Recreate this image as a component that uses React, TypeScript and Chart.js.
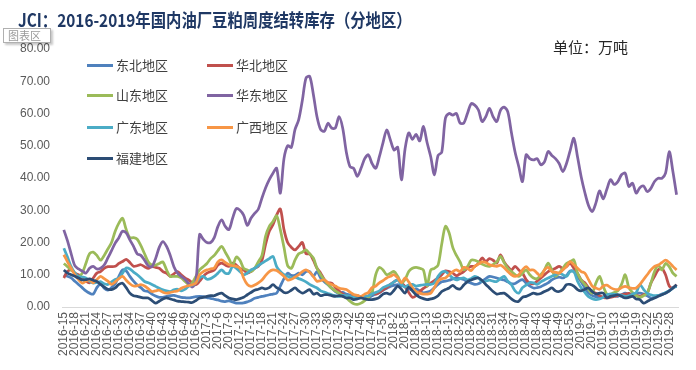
import React, { useEffect, useLayoutEffect, useRef } from "react";
import { Chart, registerables } from "chart.js";

Chart.register(...registerables);

const TITLE = "JCI：2016-2019年国内油厂豆粕周度结转库存（分地区）";
const UNIT = "单位：万吨";

const weeks2016 = [15, 16, 17, 18, 19, 20, 21, 22, 23, 24, 25, 26, 27, 28, 29, 31, 32, 33, 34, 35, 36, 37, 38, 39, 40, 41, 42, 43, 44, 45, 46, 47, 48, 49, 50, 51, 52];
const weeks2017 = [1, 2, 3, 4, 5, 6, 7, 8, 9, 10, 11, 12, 13, 14, 15, 16, 17, 18, 19, 20, 21, 22, 23, 24, 25, 26, 27, 28, 29, 30, 31, 32, 33, 34, 35, 36, 37, 38, 39, 40, 41, 42, 43, 44, 45, 46, 47, 48, 49, 50, 51, 52];
const weeks2018 = [1, 2, 3, 4, 5, 6, 9, 10, 11, 12, 13, 14, 15, 16, 17, 18, 19, 20, 21, 22, 23, 24, 25, 26, 27, 28, 29, 30, 31, 32, 33, 34, 35, 36, 37, 38, 39, 40, 41, 42, 43, 44, 45, 46, 47, 48, 49, 50, 51, 52];
const weeks2019 = [1, 2, 3, 4, 5, 7, 8, 9, 10, 11, 12, 13, 14, 15, 16, 17, 18, 19, 20, 21, 22, 23, 24, 25, 26, 27, 28, 29, 30];

const categories: string[] = [
  ...weeks2016.map((w) => `2016-${w}`),
  ...weeks2017.map((w) => `2017-${w}`),
  ...weeks2018.map((w) => `2018-${w}`),
  ...weeks2019.map((w) => `2019-${w}`),
];

const yTicks = [0, 10, 20, 30, 40, 50, 60, 70, 80];

const dongbei = [
  10.0, 9.5, 9.0, 8.0, 7.0, 6.0, 5.0, 4.3, 4.0, 6.0, 7.2, 5.8, 5.2, 6.0, 7.2, 9.5, 11.5, 11.2, 9.5, 8.0, 6.8, 6.0, 5.0, 4.8, 4.0, 3.4, 3.0, 3.0, 3.3, 3.5, 3.6, 3.3, 3.0, 2.9, 2.8, 3.0, 3.2, 3.3, 3.2, 2.9, 2.7, 2.4,
  2.2, 1.8, 1.7, 1.9, 1.6, 1.2, 1.2, 1.3, 1.6, 2.0, 2.7, 3.0, 3.3, 3.5, 3.8, 4.0, 4.3, 6.5, 8.8, 10.5, 9.8, 9.8, 10.5, 10.0, 11.0, 11.0, 9.5, 11.0, 9.0, 7.8, 6.9, 5.8, 4.8, 4.3, 4.5, 4.0, 3.8, 3.5, 3.2, 2.9, 2.8, 2.8,
  3.5, 4.0, 4.5, 5.2, 5.8, 6.4, 6.7, 6.9, 6.6, 6.4, 5.6, 5.4, 5.6, 5.0, 4.4, 4.6, 5.0, 6.0, 7.0, 7.8, 8.0, 8.3, 8.7, 9.0, 8.8, 8.5, 7.8, 7.4, 7.0, 7.2, 8.0, 8.8, 9.5, 9.3, 9.0, 8.6, 8.4, 7.8, 7.2, 7.3, 8.0,
  8.5, 7.4, 6.5, 5.9, 6.0, 6.3, 6.9, 7.5, 8.4, 9.0, 9.3, 9.0, 9.8, 11.2, 11.0, 9.5, 7.8, 6.0, 4.3, 3.6, 3.2, 3.0, 3.1, 3.3, 3.6, 3.5, 3.3, 3.8, 4.3, 4.0, 3.8, 4.2, 4.3, 4.0, 3.5, 2.8, 3.0, 3.5, 4.0, 4.3, 5.0, 5.9, 6.4,
];

const huabei = [
  9.0, 11.0, 11.5, 10.5, 10.0, 9.0, 8.0, 7.5, 9.0, 10.5, 11.0, 12.0, 12.5, 12.5, 12.6, 13.5, 14.1, 14.8, 13.8, 12.6, 12.8, 13.1, 12.5, 12.0, 12.6, 12.3, 12.0, 11.0, 10.5, 9.5, 10.3, 11.0, 10.0, 9.0, 8.4, 7.5, 6.9, 8.0, 9.5, 10.5, 11.0, 11.5,
  13.0, 13.6, 13.0, 12.6, 13.6, 13.0, 12.0, 11.5, 10.5, 11.0, 12.0, 12.6, 14.5, 19.5, 23.5, 25.5, 28.5, 30.4, 24.0, 20.0, 18.5, 17.7, 18.8, 20.0, 16.5, 16.5, 14.5, 12.0, 10.5, 8.5, 7.5, 7.4, 6.0, 5.0, 4.0, 3.5, 3.3, 3.5, 3.5, 3.0, 3.0, 3.3,
  4.5, 4.0, 4.5, 5.3, 6.0, 7.0, 7.8, 8.4, 7.5, 6.3, 4.5, 3.0, 3.5, 4.8, 5.8, 6.5, 7.4, 8.2, 9.0, 10.0, 11.2, 11.0, 10.5, 9.7, 10.3, 11.0, 12.0, 12.6, 12.6, 13.5, 15.2, 14.1, 15.0, 14.5, 13.6, 16.2, 14.0, 12.5, 11.5, 12.6, 11.5,
  10.5, 8.5, 7.4, 7.2, 8.0, 9.0, 10.0, 11.0, 11.5, 12.0, 12.6, 12.0, 12.5, 13.6, 12.0, 10.5, 8.4, 7.5, 6.0, 4.8, 4.3, 3.5, 3.0, 2.8, 3.0, 3.3, 3.5, 3.8, 4.0, 4.2, 3.8, 3.6, 3.3, 3.8, 4.3, 7.4, 9.5, 11.5, 12.0, 10.0, 6.5, 5.9, 6.9,
];

const shandong = [
  13.5, 12.5, 11.5, 10.5, 9.5, 10.5, 13.5, 16.5, 17.0, 16.0, 14.5, 16.0, 18.0, 20.0, 23.5, 26.0, 27.5, 24.0, 21.5, 21.5, 21.0, 19.0, 16.5, 14.0, 13.0, 13.0, 13.5, 14.0, 11.5, 9.5, 9.5, 9.5, 9.0, 8.0, 7.0, 7.5, 9.5, 11.5, 12.5, 13.5, 15.0, 16.0,
  17.5, 18.8, 17.0, 15.0, 12.8, 15.5, 14.5, 12.0, 11.5, 11.0, 12.0, 14.0, 16.0, 22.0, 25.0, 26.5, 28.3, 24.0, 18.5, 12.8, 12.0, 14.5, 16.5, 17.0, 17.7, 16.5, 15.2, 12.0, 10.0, 8.4, 7.0, 5.8, 5.0, 4.3, 3.5, 2.8, 1.8, 1.0, 0.8, 1.2, 2.0, 3.0,
  4.5, 10.0, 12.3, 11.5, 10.0, 10.5, 11.0, 9.5, 7.5, 8.5, 11.0, 12.0, 12.3, 12.0, 11.5, 6.5, 11.5, 12.0, 13.0, 19.5, 25.0, 23.0, 18.5, 16.0, 14.0, 11.5, 12.5, 14.5, 14.5, 14.0, 13.3, 12.8, 12.6, 13.2, 14.0, 15.7, 13.8, 12.0, 11.0, 10.0, 9.5,
  10.5, 11.5, 10.0, 9.0, 8.8, 10.0, 11.5, 13.6, 11.5, 9.5, 10.5, 12.0, 13.5, 14.1, 14.6, 10.5, 8.4, 7.0, 5.5, 4.3, 7.4, 9.5, 6.5, 4.0, 4.0, 4.5, 5.0, 7.0, 10.0, 6.0, 4.5, 3.5, 3.0, 3.5, 4.3, 7.4, 11.0, 13.0, 11.5, 13.5, 12.5, 10.5, 9.5,
];

const huadong = [
  23.9, 20.5, 16.5, 12.8, 11.8, 11.2, 10.5, 12.0, 12.6, 11.8, 12.0, 13.0, 15.2, 17.5, 19.8, 21.5, 23.5, 23.0, 20.8, 18.8, 16.5, 16.0, 14.5, 12.8, 12.5, 15.0, 18.5, 20.3, 18.8, 16.0, 12.5, 10.5, 9.5, 8.6, 7.3, 6.2, 8.0, 22.5, 21.0, 20.0, 20.0, 21.5,
  25.0, 27.0, 25.0, 24.0, 27.5, 30.5, 30.0, 28.5, 25.3, 27.5, 29.0, 30.3, 33.8, 37.0, 39.5, 41.5, 43.0, 35.3, 46.0, 50.0, 49.5, 55.0, 58.0, 64.0, 71.0, 71.5, 66.0, 59.0, 55.0, 54.5, 57.0, 55.5, 55.5, 59.0, 55.5, 48.0, 43.5, 43.0, 40.5, 43.0, 46.0, 47.2,
  44.5, 43.0, 46.6, 51.0, 54.9, 51.8, 48.7, 49.5, 39.4, 49.0, 54.0, 52.0, 53.5, 51.5, 56.0, 51.0, 46.6, 41.0, 47.0, 48.0, 58.5, 60.0, 59.5, 60.0, 57.0, 57.0, 60.0, 63.0, 62.6, 61.1, 57.5, 59.0, 61.6, 59.0, 57.5, 61.0, 62.0, 60.5, 54.0, 48.0, 43.5,
  38.9, 47.2, 46.0, 45.6, 46.0, 44.1, 45.0, 48.2, 47.0, 46.0, 44.5, 42.0, 44.5, 48.5, 52.3, 46.6, 40.4, 35.5, 31.5, 29.6, 32.2, 36.0, 33.5, 36.5, 39.5, 38.0, 38.9, 41.0, 41.5, 37.4, 38.4, 35.3, 37.0, 37.5, 35.8, 36.8, 38.9, 39.9, 39.9, 41.5, 48.2, 42.0, 34.8,
];

const guangdong = [
  18.2, 15.5, 12.5, 10.5, 9.5, 9.3, 9.0, 8.0, 7.4, 7.6, 7.9, 7.2, 7.0, 7.8, 8.5, 9.0, 10.5, 12.1, 11.8, 10.8, 10.0, 9.0, 7.9, 7.5, 7.0, 6.4, 5.8, 5.3, 5.0, 4.8, 5.3, 5.5, 5.0, 5.5, 6.4, 6.8, 7.5, 9.0, 9.5, 8.6, 8.8, 9.5,
  10.5, 11.5, 10.5, 10.5, 12.6, 12.0, 11.0, 10.0, 10.5, 11.5, 12.0, 12.8, 13.6, 14.3, 15.0, 15.7, 12.5, 11.0, 10.0, 9.5, 9.0, 9.3, 8.8, 8.4, 7.8, 7.0, 6.4, 5.9, 5.0, 4.6, 4.2, 3.8, 3.5, 3.3, 3.6, 3.5, 3.3, 3.0, 2.8, 3.0, 3.3, 3.5,
  4.0, 4.5, 5.0, 6.0, 6.5, 7.0, 7.8, 8.4, 7.0, 6.2, 6.9, 7.0, 6.5, 6.7, 6.9, 7.0, 7.0, 7.5, 9.5, 10.8, 11.0, 10.0, 9.0, 8.4, 8.8, 9.0, 8.4, 8.8, 9.5, 9.0, 7.9, 8.0, 8.3, 8.0, 7.9, 8.8, 9.5, 8.0, 6.9, 5.0, 4.3,
  6.0, 6.8, 7.6, 7.5, 7.0, 7.8, 8.4, 9.0, 9.5, 10.0, 10.5, 10.0, 9.5, 11.0, 11.0, 8.0, 6.0, 4.5, 3.2, 2.6, 2.3, 2.5, 3.0, 3.8, 4.0, 4.0, 3.8, 3.6, 3.3, 3.5, 4.0, 4.5, 6.9, 5.5, 4.2, 3.8, 3.5, 3.6, 3.8, 4.5, 5.0, 5.9, 6.4,
];

const guangxi = [
  16.2, 14.0, 12.0, 10.0, 8.5, 7.4, 8.0, 8.4, 7.5, 8.5, 9.5, 8.8, 8.0, 7.0, 7.8, 8.8, 9.5, 8.3, 7.2, 6.5, 6.6, 6.9, 6.5, 5.7, 4.8, 5.0, 5.2, 4.6, 4.3, 4.5, 4.8, 5.0, 5.8, 6.3, 6.6, 6.9, 7.5, 10.0, 11.0, 11.5, 11.8, 12.1,
  14.0, 14.6, 13.8, 13.1, 12.8, 12.6, 12.0, 9.0, 7.0, 6.4, 6.8, 7.5, 8.4, 9.8, 11.0, 11.5, 11.3, 10.5, 9.5, 8.4, 8.6, 9.3, 10.0, 11.0, 11.5, 10.8, 9.5, 8.0, 8.2, 8.4, 7.5, 7.0, 6.5, 5.9, 5.6, 5.4, 4.6, 3.9, 3.6, 3.3, 4.0, 4.5,
  6.0, 6.5, 7.5, 8.2, 9.0, 9.5, 10.0, 9.0, 7.5, 9.0, 7.8, 6.0, 4.8, 4.3, 4.0, 4.0, 4.3, 6.0, 8.0, 8.8, 9.0, 10.0, 11.0, 11.5, 11.0, 12.3, 12.0, 11.3, 12.6, 13.3, 14.0, 13.8, 13.1, 12.8, 12.6, 13.0, 12.2, 11.0, 10.0, 9.5, 10.0,
  11.5, 12.5, 11.5, 11.5, 10.5, 9.5, 11.5, 12.3, 11.0, 10.8, 10.5, 11.5, 12.6, 14.1, 13.1, 12.0, 11.0, 10.5, 8.5, 6.5, 5.9, 5.5, 6.5, 6.8, 6.0, 5.5, 5.4, 6.0, 6.4, 6.0, 5.8, 5.9, 7.0, 8.5, 10.0, 11.5, 12.6, 13.0, 13.8, 14.5, 13.8, 12.6, 11.5,
];

const fujian = [
  11.5, 10.5, 10.0, 9.5, 9.0, 8.4, 8.5, 8.7, 8.3, 7.9, 7.0, 6.2, 5.5, 5.4, 5.9, 7.0, 7.4, 6.0, 4.3, 3.5, 3.3, 3.0, 2.8, 2.8, 2.0, 1.2, 1.8, 2.5, 2.8, 2.5, 2.2, 1.8, 1.7, 1.6, 1.5, 1.4, 2.0, 2.8, 3.0, 3.3, 3.5, 3.5,
  4.0, 4.3, 3.5, 2.8, 2.5, 2.3, 2.6, 3.0, 3.8, 4.5, 5.2, 5.5, 5.9, 5.6, 6.0, 6.9, 6.0, 5.4, 4.5, 4.5, 5.2, 5.9, 5.0, 4.3, 4.8, 5.4, 4.0, 4.3, 3.5, 3.8, 3.8, 3.5, 3.3, 3.5, 3.3, 2.8, 2.8, 2.3, 2.5, 2.8, 2.5, 2.3,
  2.3, 2.5, 3.0, 4.0, 4.3, 4.0, 5.2, 6.5, 5.5, 4.3, 6.2, 5.0, 3.8, 3.0, 2.6, 2.3, 2.5, 2.8, 3.5, 4.8, 5.4, 5.9, 6.7, 5.8, 5.6, 6.8, 7.9, 8.4, 8.8, 9.0, 8.2, 7.0, 5.9, 4.8, 4.0, 4.2, 4.3, 3.5, 2.5, 1.8, 1.8,
  3.0, 3.3, 3.8, 4.3, 4.0, 4.2, 4.8, 5.3, 5.9, 5.0, 4.8, 5.4, 6.9, 7.0, 6.5, 5.4, 5.0, 5.5, 5.9, 4.8, 4.0, 4.3, 4.3, 2.8, 3.3, 3.5, 3.8, 3.3, 2.8, 3.0, 3.3, 2.5, 2.3, 1.2, 1.7, 2.3, 2.8, 3.3, 3.8, 4.3, 5.0, 5.9, 6.9,
];

const seriesNames = ["东北地区", "华北地区", "山东地区", "华东地区", "广东地区", "广西地区", "福建地区"];
const seriesColors = ["#4F81BD", "#C0504D", "#9BBB59", "#8064A2", "#4BACC6", "#F79646", "#2C4D75"];
const seriesData = [dongbei, huabei, shandong, huadong, guangdong, guangxi, fujian];

const FONT = "'Liberation Sans', Arial, sans-serif";
const CJK = "'Noto Sans CJK SC', 'Noto Sans', sans-serif";
const AXIS_COLOR = "#595959";

const topTickLabelPlugin = {
  id: "topTickLabel",
  afterDraw(chart: any) {
    const y = chart.scales.y;
    if (!y) return;
    const top = yTicks[yTicks.length - 1];
    const ctx = chart.ctx;
    ctx.save();
    ctx.font = `12px ${FONT}`;
    ctx.fillStyle = AXIS_COLOR;
    ctx.textAlign = "right";
    ctx.textBaseline = "middle";
    ctx.fillText(top.toFixed(2), y.right - 12, y.getPixelForValue(top));
    ctx.restore();
  },
};

export default function App() {
  const canvasRef = useRef<HTMLCanvasElement | null>(null);
  const titleRef = useRef<HTMLSpanElement | null>(null);

  useLayoutEffect(() => {
    const el = titleRef.current;
    if (el) {
      const w = el.offsetWidth;
      if (w > 0) el.style.transform = `scaleX(${394 / w})`;
    }
  }, []);

  useEffect(() => {
    const canvas = canvasRef.current;
    if (!canvas) return;
    const chart = new Chart(canvas, {
      type: "line",
      data: {
        labels: categories,
        datasets: seriesData.map((d, i) => ({
          label: seriesNames[i],
          data: d,
          borderColor: seriesColors[i],
          backgroundColor: seriesColors[i],
          borderWidth: 2.75,
          pointRadius: 0,
          tension: 0.3,
          fill: false,
          order: seriesData.length - 1 - i,
        })),
      },
      options: {
        animation: false,
        responsive: false,
        devicePixelRatio: 1,
        layout: { padding: { top: 49, right: 13, left: 0, bottom: 0 } },
        plugins: { legend: { display: false }, tooltip: { enabled: false }, title: { display: false } },
        scales: {
          x: {
            type: "category",
            offset: true,
            grid: { display: false, drawTicks: false },
            border: { display: true, color: "#D9D9D9", width: 1 },
            ticks: {
              autoSkip: false,
              minRotation: 90,
              maxRotation: 90,
              padding: 5,
              color: AXIS_COLOR,
              font: { family: FONT, size: 12 },
              callback: (_v: any, idx: number) => (idx % 3 === 0 ? categories[idx] : ""),
            },
            afterFit: (scale: any) => {
              scale.height = 63;
            },
          },
          y: {
            min: 0,
            max: 80,
            afterBuildTicks: (scale: any) => {
              scale.ticks = yTicks.map((v) => ({ value: v }));
            },
            grid: { display: false, drawTicks: false },
            border: { display: false },
            ticks: {
              padding: 12,
              color: AXIS_COLOR,
              font: { family: FONT, size: 12 },
              callback: (v: any) => (Number(v) === yTicks[yTicks.length - 1] ? "" : Number(v).toFixed(2)),
            },
            afterFit: (scale: any) => {
              scale.width = 62;
            },
          },
        },
      },
      plugins: [topTickLabelPlugin],
    });
    return () => chart.destroy();
  }, []);

  const legendRows = [
    [0, 1],
    [2, 3],
    [4, 5],
    [6],
  ];
  const rowY = [65, 95, 127, 158];
  const colLineX = [87, 207];

  return (
    <div style={{ position: "absolute", left: 0, top: 0, width: 696, height: 370, background: "#fff", overflow: "hidden" }}>
      <canvas ref={canvasRef} width={696} height={370} style={{ position: "absolute", left: 0, top: 0, width: 696, height: 370 }} />
      <div style={{ position: "absolute", left: 18, top: 6, whiteSpace: "nowrap", lineHeight: "26px", height: 26 }}>
        <span
          ref={titleRef}
          style={{
            display: "inline-block",
            transformOrigin: "left center",
            fontFamily: CJK,
            fontWeight: 700,
            fontSize: 18,
            color: "#1F3864",
          }}
        >
          {TITLE}
        </span>
      </div>
      <div
        style={{
          position: "absolute",
          left: 3,
          top: 28,
          width: 42,
          height: 13,
          border: "1px solid #b0b0b0",
          background: "#fff",
          boxShadow: "2px 2px 2px rgba(0,0,0,0.22)",
          fontFamily: CJK,
          fontSize: 11,
          lineHeight: "13px",
          color: "#9a9a9a",
          whiteSpace: "nowrap",
          paddingLeft: 4,
          boxSizing: "content-box",
          overflow: "hidden",
        }}
      >
        图表区
      </div>
      <div
        style={{
          position: "absolute",
          left: 553,
          top: 38,
          fontFamily: CJK,
          fontSize: 15,
          lineHeight: "18px",
          color: "#262626",
          whiteSpace: "nowrap",
        }}
      >
        {UNIT}
      </div>
      {legendRows.map((row, r) =>
        row.map((si, c) => (
          <div
            key={si}
            style={{ position: "absolute", left: colLineX[c], top: rowY[r] - 9, height: 18, display: "flex", alignItems: "center", whiteSpace: "nowrap" }}
          >
            <span style={{ display: "inline-block", width: 26, height: 3, background: seriesColors[si], marginRight: 3 }} />
            <span style={{ fontFamily: CJK, fontSize: 13, color: "#404040", lineHeight: "18px" }}>{seriesNames[si]}</span>
          </div>
        ))
      )}
    </div>
  );
}
